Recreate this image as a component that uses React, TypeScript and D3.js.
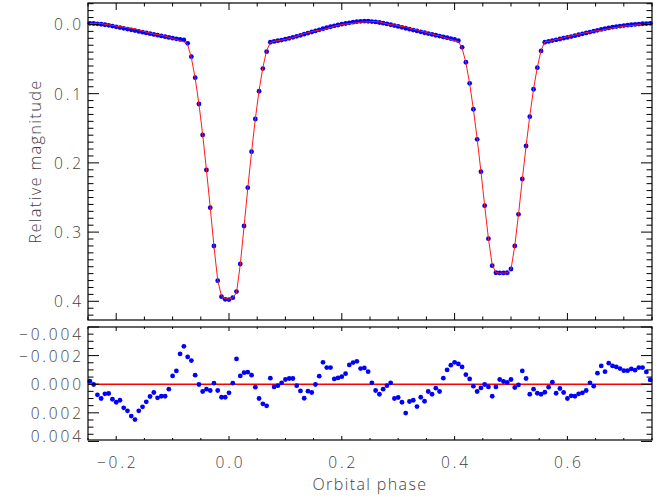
import React from 'react';
import * as d3 from 'd3';

const phases = [
  -0.2467, -0.2400, -0.2333, -0.2267, -0.2200, -0.2133, -0.2067, -0.2000, -0.1933, -0.1867,
  -0.1800, -0.1733, -0.1667, -0.1600, -0.1533, -0.1467, -0.1400, -0.1333, -0.1267, -0.1200,
  -0.1133, -0.1067, -0.1000, -0.0933, -0.0867, -0.0800, -0.0733, -0.0667, -0.0600, -0.0533,
  -0.0467, -0.0400, -0.0333, -0.0267, -0.0200, -0.0133, -0.0067, 0.0000, 0.0067, 0.0133,
  0.0200, 0.0267, 0.0333, 0.0400, 0.0467, 0.0533, 0.0600, 0.0667, 0.0733, 0.0800,
  0.0867, 0.0933, 0.1000, 0.1067, 0.1133, 0.1200, 0.1267, 0.1333, 0.1400, 0.1467,
  0.1533, 0.1600, 0.1667, 0.1733, 0.1800, 0.1867, 0.1933, 0.2000, 0.2067, 0.2133,
  0.2200, 0.2267, 0.2333, 0.2400, 0.2467, 0.2533, 0.2600, 0.2667, 0.2733, 0.2800,
  0.2867, 0.2933, 0.3000, 0.3067, 0.3133, 0.3200, 0.3267, 0.3333, 0.3400, 0.3467,
  0.3533, 0.3600, 0.3667, 0.3733, 0.3800, 0.3867, 0.3933, 0.4000, 0.4067, 0.4133,
  0.4200, 0.4267, 0.4333, 0.4400, 0.4467, 0.4533, 0.4600, 0.4667, 0.4733, 0.4800,
  0.4867, 0.4933, 0.5000, 0.5067, 0.5133, 0.5200, 0.5267, 0.5333, 0.5400, 0.5467,
  0.5533, 0.5600, 0.5667, 0.5733, 0.5800, 0.5867, 0.5933, 0.6000, 0.6067, 0.6133,
  0.6200, 0.6267, 0.6333, 0.6400, 0.6467, 0.6533, 0.6600, 0.6667, 0.6733, 0.6800,
  0.6867, 0.6933, 0.7000, 0.7067, 0.7133, 0.7200, 0.7267, 0.7333, 0.7400, 0.7467,
];

const magnitudes = [
  -0.0017, -0.0014, -0.0009, -0.0003, 0.0004, 0.0013, 0.0023, 0.0034, 0.0045, 0.0056,
  0.0067, 0.0078, 0.0089, 0.0100, 0.0111, 0.0122, 0.0133, 0.0144, 0.0155, 0.0166,
  0.0177, 0.0188, 0.0198, 0.0208, 0.0216, 0.0224, 0.0272, 0.0465, 0.0769, 0.1149,
  0.1597, 0.2103, 0.2647, 0.3201, 0.3702, 0.3933, 0.3971, 0.3975, 0.3948, 0.3860,
  0.3461, 0.2912, 0.2358, 0.1838, 0.1366, 0.0965, 0.0638, 0.0393, 0.0257, 0.0245,
  0.0235, 0.0225, 0.0213, 0.0200, 0.0186, 0.0172, 0.0157, 0.0141, 0.0125, 0.0109,
  0.0093, 0.0077, 0.0062, 0.0047, 0.0033, 0.0020, 0.0008, -0.0004, -0.0014, -0.0024,
  -0.0033, -0.0040, -0.0045, -0.0047, -0.0046, -0.0042, -0.0036, -0.0028, -0.0018, -0.0007,
  0.0004, 0.0016, 0.0029, 0.0042, 0.0055, 0.0068, 0.0081, 0.0094, 0.0107, 0.0120,
  0.0132, 0.0144, 0.0156, 0.0168, 0.0180, 0.0192, 0.0204, 0.0216, 0.0234, 0.0330,
  0.0546, 0.0850, 0.1225, 0.1659, 0.2127, 0.2618, 0.3095, 0.3485, 0.3587, 0.3590,
  0.3590, 0.3587, 0.3533, 0.3201, 0.2743, 0.2233, 0.1756, 0.1332, 0.0936, 0.0624,
  0.0383, 0.0257, 0.0245, 0.0233, 0.0222, 0.0210, 0.0198, 0.0187, 0.0175, 0.0162,
  0.0149, 0.0136, 0.0123, 0.0110, 0.0097, 0.0085, 0.0072, 0.0060, 0.0050, 0.0040,
  0.0031, 0.0023, 0.0016, 0.0010, 0.0004, -0.0001, -0.0006, -0.0010, -0.0013, -0.0016,
];

const residuals = [
  -0.00021, 0.00002, 0.00074, 0.00100, 0.00067, 0.00065, 0.00105, 0.00126, 0.00112, 0.00165,
  0.00186, 0.00223, 0.00247, 0.00186, 0.00158, 0.00123, 0.00086, 0.00058, 0.00095, 0.00084,
  0.00084, 0.00035, -0.00058, -0.00093, -0.00212, -0.00265, -0.00191, -0.00165, -0.00063, 0.00002,
  0.00051, 0.00035, 0.00044, -0.00007, 0.00044, 0.00091, 0.00091, 0.00060, -0.00007, -0.00177,
  -0.00058, -0.00081, -0.00084, -0.00063, 0.00021, 0.00100, 0.00137, 0.00151, -0.00042, 0.00019,
  0.00010, -0.00010, -0.00033, -0.00040, -0.00040, 0.00010, 0.00047, 0.00098, 0.00049, 0.00058,
  0.00002, -0.00056, -0.00153, -0.00116, -0.00116, -0.00037, -0.00044, -0.00053, -0.00074, -0.00135,
  -0.00151, -0.00160, -0.00109, -0.00114, -0.00088, -0.00010, 0.00044, 0.00070, 0.00035, 0.00010,
  -0.00010, 0.00100, 0.00093, 0.00126, 0.00202, 0.00121, 0.00112, 0.00156, 0.00091, 0.00119,
  0.00051, 0.00070, 0.00028, 0.00051, -0.00042, -0.00100, -0.00133, -0.00153, -0.00142, -0.00121,
  -0.00067, -0.00037, 0.00014, 0.00051, 0.00026, 0.00002, 0.00019, 0.00084, 0.00019, -0.00033,
  -0.00019, -0.00012, -0.00033, 0.00023, 0.00005, -0.00093, -0.00040, 0.00070, 0.00035, 0.00063,
  0.00070, 0.00056, 0.00021, -0.00014, 0.00063, 0.00030, 0.00058, 0.00100, 0.00081, 0.00084,
  0.00067, 0.00060, 0.00044, -0.00010, 0.00014, -0.00077, -0.00128, -0.00088, -0.00147, -0.00128,
  -0.00121, -0.00109, -0.00095, -0.00095, -0.00107, -0.00098, -0.00116, -0.00116, -0.00086, -0.00030,
];

const xTicks = [-0.2, 0.0, 0.2, 0.4, 0.6];
const xTickLabels = ['\u22120.2', '0.0', '0.2', '0.4', '0.6'];
const magTicks = [0.0, 0.1, 0.2, 0.3, 0.4];
const magTickLabels = ['0.0', '0.1', '0.2', '0.3', '0.4'];
const resTicks = [-0.004, -0.002, 0.0, 0.002, 0.004];
const resTickLabels = ['\u22120.004', '\u22120.002', '0.000', '0.002', '0.004'];

const W = 670;
const H = 499;
const L = 88;
const R = 652;
const T1 = 3;
const B1 = 320;
const T2 = 327;
const B2 = 440;

const FONT = "'Open Sans', 'DejaVu Sans', sans-serif";
const TXT = '#3f3f3f';
const LS = 2.8;

export default function App() {
  const x = d3.scaleLinear().domain([-0.25, 0.75]).range([L, R]);
  const yMag = d3.scaleLinear().domain([-0.031, 0.427]).range([T1, B1]);
  const yRes = d3.scaleLinear().domain([-0.004, 0.0039]).range([T2, B2]);

  const xMinor = d3.range(-0.25, 0.7501, 0.05).filter(v => !xTicks.some(t => Math.abs(t - v) < 1e-6));
  const magMinor = d3.range(-0.03, 0.4201, 0.01).filter(v => !magTicks.some(t => Math.abs(t - v) < 1e-6));
  const resMinor = d3.range(-0.004, 0.00391, 0.0005).filter(v => !resTicks.some(t => Math.abs(t - v) < 1e-7));

  const model = magnitudes.map((m, i) => m - residuals[i]);
  const line = d3.line<number>().x((_, i) => x(phases[i])).y(d => yMag(d));

  const ticksX = (top: number, bot: number, maj: number, min: number) => (
    <g stroke="#000" strokeWidth={1}>
      {xTicks.map((t, i) => (
        <g key={'M' + i}>
          <line x1={x(t)} x2={x(t)} y1={bot} y2={bot - maj} />
          <line x1={x(t)} x2={x(t)} y1={top} y2={top + maj} />
        </g>
      ))}
      {xMinor.map((t, i) => (
        <g key={'m' + i}>
          <line x1={x(t)} x2={x(t)} y1={bot} y2={bot - min} />
          <line x1={x(t)} x2={x(t)} y1={top} y2={top + min} />
        </g>
      ))}
    </g>
  );

  const ticksY = (y: d3.ScaleLinear<number, number>, major: number[], minor: number[]) => (
    <g stroke="#000" strokeWidth={1}>
      {major.map((t, i) => (
        <g key={'M' + i}>
          <line x1={L} x2={L + 11} y1={y(t)} y2={y(t)} />
          <line x1={R} x2={R - 11} y1={y(t)} y2={y(t)} />
        </g>
      ))}
      {minor.map((t, i) => (
        <g key={'m' + i}>
          <line x1={L} x2={L + 5.5} y1={y(t)} y2={y(t)} />
          <line x1={R} x2={R - 5.5} y1={y(t)} y2={y(t)} />
        </g>
      ))}
    </g>
  );

  return (
    <svg width={W} height={H} style={{ position: 'absolute', left: 0, top: 0, background: '#fff' }}
      fontFamily={FONT}>
      <rect x={0} y={0} width={W} height={H} fill="#fff" />

      {/* top panel */}
      <g>
        {magnitudes.map((m, i) => (
          <circle key={i} cx={x(phases[i])} cy={yMag(m)} r={2.4} fill="#0000ff" />
        ))}
        <path d={line(model) || ''} fill="none" stroke="#ff1a1a" strokeWidth={1} />
        {ticksX(T1, B1, 7, 3.5)}
        {ticksY(yMag, magTicks, magMinor)}
        <rect x={L} y={T1} width={R - L} height={B1 - T1} fill="none" stroke="#000" strokeWidth={1.2} />
        {magTicks.map((t, i) => (
          <text key={i} x={L - 7 + LS} y={yMag(t)} textAnchor="end" dominantBaseline="central"
            fontSize={15.5} fontWeight={300} letterSpacing={LS} fill={TXT}>{magTickLabels[i]}</text>
        ))}
        <text transform={`translate(34,${(T1 + B1) / 2}) rotate(-90)`} textAnchor="middle"
          dominantBaseline="central" fontSize={16.5} fontWeight={300} letterSpacing={1.3} fill={TXT}>
          Relative magnitude
        </text>
      </g>

      {/* bottom panel */}
      <g>
        <line x1={L} x2={R} y1={yRes(0)} y2={yRes(0)} stroke="#ff0000" strokeWidth={1.4} />
        {residuals.map((r, i) => (
          <circle key={i} cx={x(phases[i])} cy={yRes(r)} r={2.4} fill="#0000ff" />
        ))}
        {ticksX(T2, B2, 4, 2)}
        {ticksY(yRes, resTicks, resMinor)}
        <rect x={L} y={T2} width={R - L} height={B2 - T2} fill="none" stroke="#000" strokeWidth={1.2} />
        {resTicks.map((t, i) => (
          <text key={i} x={L - 7 + LS} y={Math.min(Math.max(yRes(t), T2 + 7), B2 - 4)}
            textAnchor="end" dominantBaseline="central"
            fontSize={15.5} fontWeight={300} letterSpacing={LS} fill={TXT}>{resTickLabels[i]}</text>
        ))}
        {xTicks.map((t, i) => (
          <text key={i} x={x(t) + LS / 2} y={462} textAnchor="middle" dominantBaseline="central"
            fontSize={15.5} fontWeight={300} letterSpacing={LS} fill={TXT}>{xTickLabels[i]}</text>
        ))}
        <text x={(L + R) / 2} y={490} textAnchor="middle" fontSize={16} fontWeight={300}
          letterSpacing={1.4} fill={TXT}>Orbital phase</text>
      </g>
    </svg>
  );
}
